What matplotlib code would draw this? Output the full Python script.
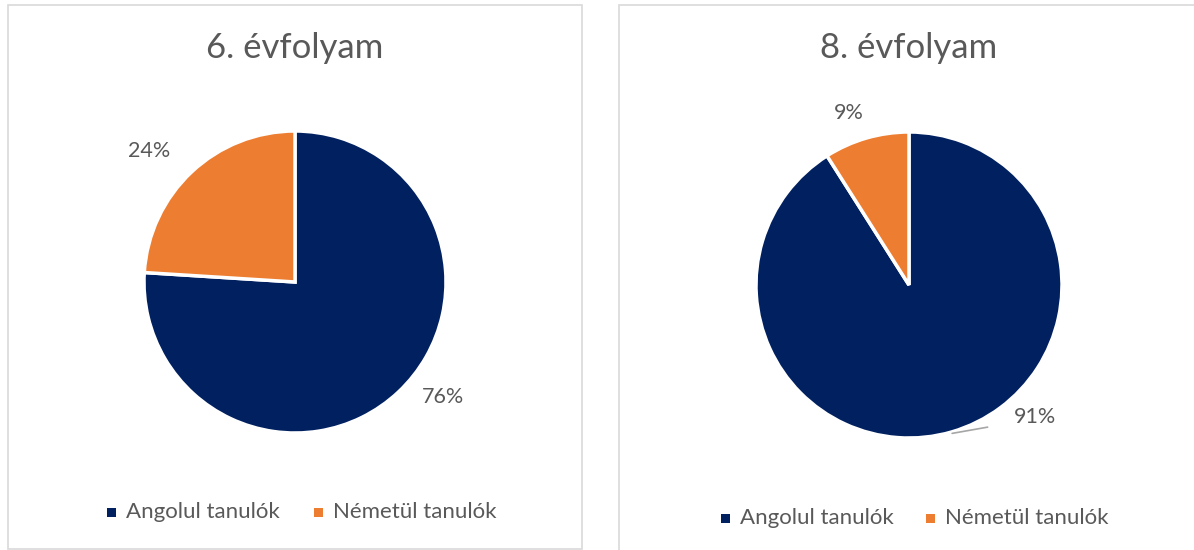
import matplotlib
matplotlib.use("Agg")
import numpy as np
import matplotlib.pyplot as plt
from matplotlib.patches import Rectangle

# data
categories = ["Angolul tanulók", "Németül tanulók"]
grade6_values = [76, 24]
grade8_values = [91, 9]
titles = ["6. évfolyam", "8. évfolyam"]

NAVY = "#002060"
ORANGE = "#ED7D31"
TEXT = "#595959"
BORDER = "#D9D9D9"
FONT = "Lato"

W, H = 1194, 550
fig = plt.figure(figsize=(W / 100, H / 100), dpi=100)


def px_axes(x0, y0, w, h):
    # pixel box (top-left origin) -> figure axes
    return fig.add_axes([x0 / W, 1 - (y0 + h) / H, w / W, h / H])


# panel borders
for (x0, y0, x1, y1) in [(8, 5, 582, 549), (619, 5, 1200, 560)]:
    fig.patches.append(Rectangle((x0 / W, 1 - y1 / H), (x1 - x0) / W, (y1 - y0) / H,
                                 transform=fig.transFigure, fill=False,
                                 edgecolor=BORDER, linewidth=1.2))

panels = [
    # center, radius, title y, legend y/x, label tweaks (angle offset, dist)
    dict(cx=295, cy=282, r=151, ty=48, ly=512, lx=[111, 318],
         tweaks=[(9, 1.24), (5, 1.30)], leader=False),
    dict(cx=909, cy=285, r=153, ty=48, ly=518, lx=[725, 930],
         tweaks=[(27.5, 1.19), (3, 1.19)], leader=True),
]

for values, title, p in zip([grade6_values, grade8_values], titles, panels):
    ax = px_axes(p["cx"] - p["r"], p["cy"] - p["r"], 2 * p["r"], 2 * p["r"])
    wedges, _ = ax.pie(values, colors=[NAVY, ORANGE], startangle=90, counterclock=False,
                       radius=1, wedgeprops=dict(edgecolor="white", linewidth=2.5))
    ax.set_xlim(-1, 1)
    ax.set_ylim(-1, 1)
    ax.set_aspect("equal")
    ax.axis("off")
    for w, v, (doff, dist) in zip(wedges, values, p["tweaks"]):
        mid = np.deg2rad((w.theta1 + w.theta2) / 2)
        lab = mid + np.deg2rad(doff)
        tx, ty = dist * np.cos(lab), dist * np.sin(lab)
        if p["leader"] and v == max(values):
            ax.annotate(f"{v}%", xy=(1.01 * np.cos(mid), 1.01 * np.sin(mid)),
                        xytext=(tx, ty), ha="center", va="center",
                        fontsize=15.5, family=FONT, color=TEXT,
                        arrowprops=dict(arrowstyle="-", color="#A6A6A6", lw=1.2,
                                        shrinkA=17, shrinkB=0,
                                        connectionstyle="angle,angleA=180,angleB=10,rad=0"),
                        annotation_clip=False)
        else:
            ax.text(tx, ty, f"{v}%", ha="center", va="center",
                    fontsize=15.5, family=FONT, color=TEXT, clip_on=False)

    fig.text(p["cx"] / W, 1 - p["ty"] / H, title, ha="center", va="center",
             fontsize=25, family=FONT, color=TEXT)

    for cat, col, lx in zip(categories, [NAVY, ORANGE], p["lx"]):
        fig.patches.append(Rectangle(((lx - 4.5) / W, 1 - (p["ly"] + 4.5) / H), 9 / W, 9 / H,
                                     transform=fig.transFigure, facecolor=col,
                                     edgecolor="none"))
        fig.text((lx + 15) / W, 1 - p["ly"] / H, cat, ha="left", va="center",
                 fontsize=16, family=FONT, color=TEXT)

fig.savefig("out.png", dpi=100, facecolor="white")
